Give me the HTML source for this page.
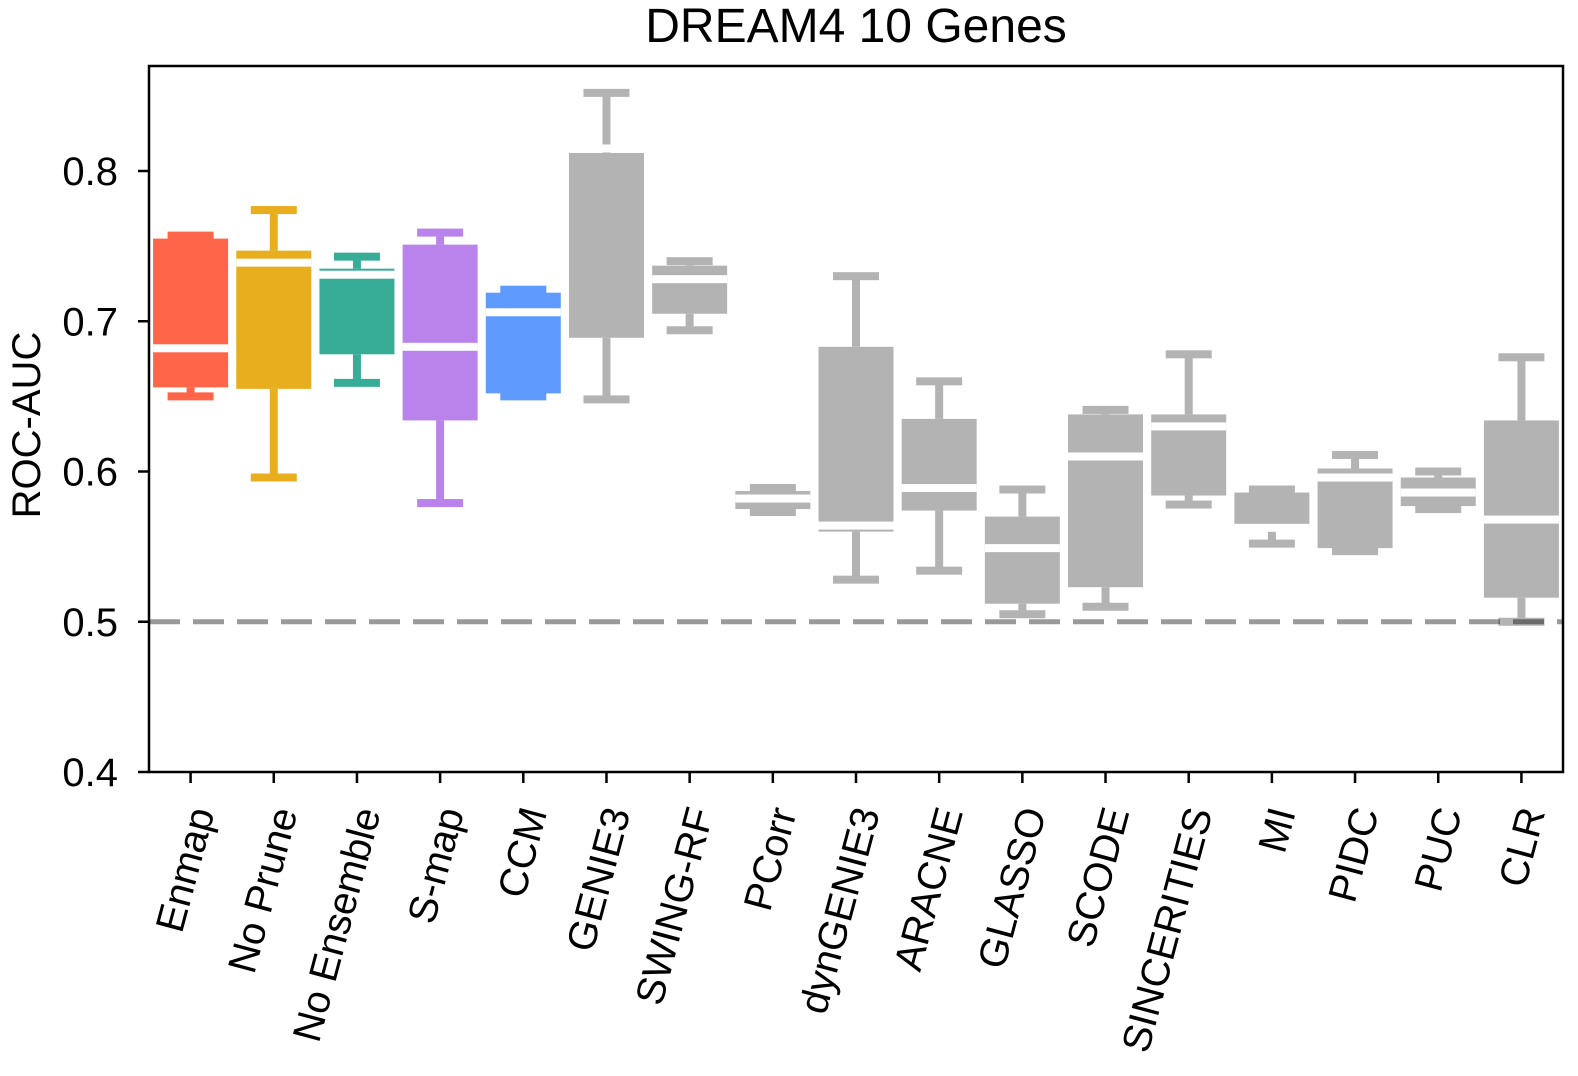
<!DOCTYPE html>
<html><head><meta charset="utf-8"><style>
html,body{margin:0;padding:0;background:#fff;}
svg{display:block;font-family:"Liberation Sans",sans-serif;}
</style></head><body>
<svg id="chart" width="1578" height="1076">
<text x="856" y="42" font-size="48" text-anchor="middle">DREAM4 10 Genes</text>
<text transform="translate(40,425) rotate(-90)" font-size="40" text-anchor="middle">ROC-AUC</text>
<g id="marks"></g>
<g id="axes"></g>
</svg>
<script>
const categories = ["Enmap","No Prune","No Ensemble","S-map","CCM","GENIE3","SWING-RF","PCorr","dynGENIE3","ARACNE","GLASSO","SCODE","SINCERITIES","MI","PIDC","PUC","CLR"];
const mins    = [0.650,0.596,0.659,0.579,0.650,0.648,0.694,0.573,0.528,0.534,0.505,0.510,0.578,0.552,0.547,0.575,0.500];
const q1s     = [0.656,0.655,0.678,0.634,0.652,0.689,0.705,0.575,0.560,0.574,0.512,0.523,0.584,0.5615,0.549,0.577,0.516];
const medians = [0.682,0.739,0.731,0.683,0.706,0.815,0.728,0.582,0.564,0.589,0.549,0.610,0.630,0.5625,0.596,0.586,0.568];
const q3s     = [0.755,0.747,0.735,0.751,0.719,0.812,0.737,0.587,0.683,0.635,0.570,0.638,0.638,0.586,0.602,0.596,0.634];
const maxs    = [0.757,0.774,0.743,0.759,0.721,0.852,0.740,0.589,0.730,0.660,0.588,0.641,0.678,0.588,0.611,0.600,0.676];
const colors  = ["#FF6549","#E8AE1D","#37AD98","#B983EB","#5F9BFE","#B3B3B3","#B3B3B3","#B3B3B3","#B3B3B3","#B3B3B3","#B3B3B3","#B3B3B3","#B3B3B3","#B3B3B3","#B3B3B3","#B3B3B3","#B3B3B3"];
const yTicks = [0.4,0.5,0.6,0.7,0.8];
const yTickLabels = ["0.4","0.5","0.6","0.7","0.8"];
const baseline = 0.5;

const L=149,R=1563,T=66,B=772;
const yMin=0.4,yMax=0.8;
function y(v){return B-(v-yMin)*(772-171)/(yMax-yMin);}
const step=(R-L)/categories.length;
function x(i){return L+step*(i+0.5);}
const NS="http://www.w3.org/2000/svg";
const marks=document.getElementById('marks');
const axes=document.getElementById('axes');
function mk(tag,attrs,parent){const e=document.createElementNS(NS,tag);for(const k in attrs)e.setAttribute(k,attrs[k]);parent.appendChild(e);return e;}

const BW=75,CW=46,WW=8,CH=8,MH=8;
categories.forEach((c,i)=>{
  const cx=x(i),col=colors[i];
  const g=mk('g',{},marks);
  
  
  const wu=mk('rect',{x:cx-WW/2,y:y(maxs[i]),width:WW,height:Math.max(0,y(q3s[i])-y(maxs[i])),fill:col},g);
  
  
  const wl=mk('rect',{x:cx-WW/2,y:y(q1s[i]),width:WW,height:Math.max(0,y(mins[i])-y(q1s[i])),fill:col},g);
  
  
  const cu=mk('rect',{x:cx-CW/2,y:y(maxs[i])-CH/2,width:CW,height:CH,fill:col},g);
  
  
  const cl=mk('rect',{x:cx-CW/2,y:y(mins[i])-CH/2,width:CW,height:CH,fill:col},g);
  
  
  const bx=mk('rect',{x:cx-BW/2,y:y(q3s[i]),width:BW,height:Math.max(1,y(q1s[i])-y(q3s[i])),fill:col},g);
  
  
  const md=mk('rect',{x:cx-BW/2,y:y(medians[i])-MH/2,width:BW,height:MH,fill:'#fff'},g);
  
  
});
const bl=mk('line',{x1:L,x2:R,y1:y(baseline),y2:y(baseline),stroke:'rgba(0,0,0,0.4)','stroke-width':5,'stroke-dasharray':'31 13'},marks);



const fr=mk('rect',{x:L,y:T,width:R-L,height:B-T,fill:'none',stroke:'#000','stroke-width':2.5},axes);


yTicks.forEach((v,i)=>{
  const t=mk('line',{x1:L-11,x2:L,y1:y(v),y2:y(v),stroke:'#000','stroke-width':2.5},axes);
  
  
  const lb=mk('text',{x:L-31,y:y(v)+14,'font-size':40,'text-anchor':'end'},axes);
  lb.textContent=yTickLabels[i];
  
  
});
categories.forEach((c,i)=>{
  const t=mk('line',{x1:x(i),x2:x(i),y1:B,y2:B+11,stroke:'#000','stroke-width':2.5},axes);
  
  
  const lb=mk('text',{transform:`translate(${x(i)+24},${B+40}) rotate(-75)`,'font-size':40,'text-anchor':'end'},axes);
  lb.textContent=c;
  
  
});
</script>
</body></html>
